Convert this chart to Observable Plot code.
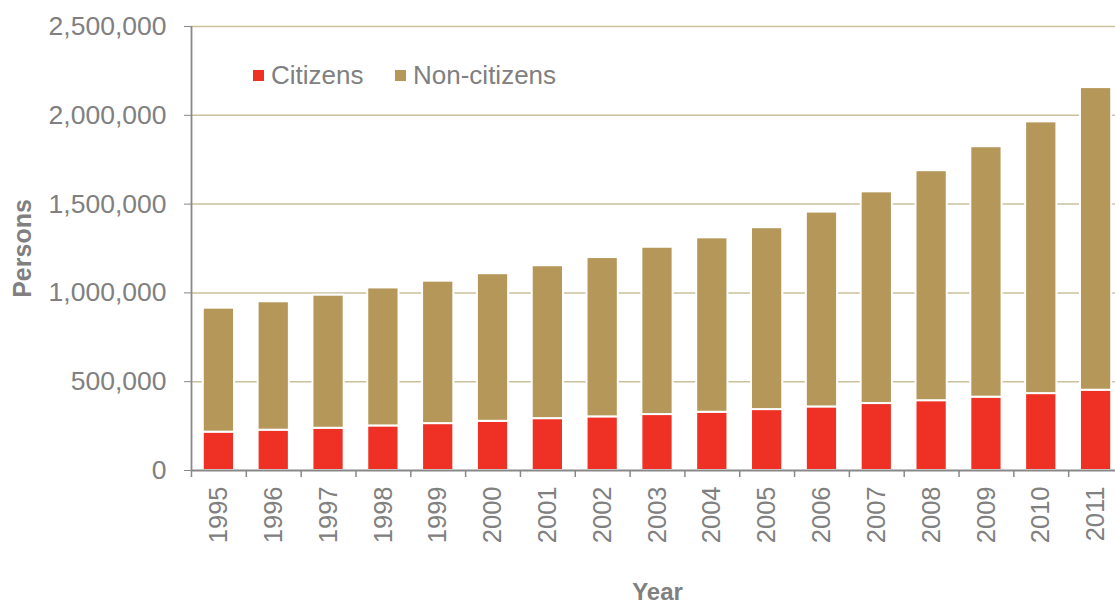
<!DOCTYPE html>
<html>
<head>
<meta charset="utf-8">
<script src="https://cdn.jsdelivr.net/npm/d3@7"></script>
<script src="https://cdn.jsdelivr.net/npm/@observablehq/plot@0.6"></script>
<style>
  body { margin: 0; background: #fff; overflow: hidden; font-family: "Liberation Sans", Arial, sans-serif; }
  #wrap { position: relative; width: 1115px; height: 606px; }
  .item { position: absolute; top: 58px; font-size: 26px; color: #808080; display: flex; align-items: center; line-height: 34px; white-space: nowrap; }
  .sw { display: inline-block; width: 11px; height: 11px; margin-right: 7px; }
</style>
</head>
<body>
<div id="wrap">
  <div id="chart"></div>
  <span class="item" style="left:253px"><span class="sw" style="background:#EE3124"></span>Citizens</span>
  <span class="item" style="left:395px"><span class="sw" style="background:#B49759"></span>Non-citizens</span>
</div>
<script>
const years = ["1995","1996","1997","1998","1999","2000","2001","2002","2003","2004","2005","2006","2007","2008","2009","2010","2011"];
const citizens = [216000, 227000, 238000, 251000, 264000, 277000, 292000, 302000, 315000, 328000, 343000, 358000, 377000, 393000, 413000, 433000, 452000];
const nonCitizens = [698000, 723000, 749000, 777000, 802000, 831000, 861000, 897000, 942000, 982000, 1024000, 1097000, 1192000, 1295000, 1410000, 1530000, 1704000];
const yTicks = [0, 500000, 1000000, 1500000, 2000000, 2500000];
const seriesNames = ["Citizens", "Non-citizens"];
const seriesColors = ["#EE3124", "#B49759"];

const rows = [];
years.forEach((y, i) => {
  rows.push({year: y, series: "Citizens", value: citizens[i]});
  rows.push({year: y, series: "Non-citizens", value: nonCitizens[i]});
});

const x0 = 191, x1 = 1123;
const step = (x1 - x0) / years.length;
const gray = "#888888";

const chart = Plot.plot({
  width: 1115,
  height: 606,
  marginLeft: 191,
  marginRight: 0,
  marginTop: 26,
  marginBottom: 136,
  style: {color: "#808080", fontFamily: "'Liberation Sans', Arial, sans-serif", background: "white"},
  x: {domain: years, range: [x0, x1], paddingInner: 0.43, paddingOuter: 0.215, round: false},
  y: {domain: [0, 2500000]},
  color: {domain: seriesNames, range: seriesColors},
  marks: [
    Plot.ruleY(yTicks.filter(d => d > 0), {stroke: "#C9C09C", strokeWidth: 1.5}),
    Plot.barY(rows, {x: "year", y: "value", fill: "series", stroke: "white", strokeWidth: 2}),
    Plot.ruleY([0], {stroke: gray, strokeWidth: 1.8}),
    Plot.ruleX(["1995"], {x: d => d, dx: -step / 2, y1: 0, y2: 2500000, stroke: gray, strokeWidth: 1.8}),
    Plot.ruleX(years, {x: d => d, dx: -step / 2, y1: -39400, y2: 0, stroke: gray, strokeWidth: 1.5}),
    Plot.ruleX(["2011"], {x: d => d, dx: step / 2, y1: -39400, y2: 0, stroke: gray, strokeWidth: 1.5}),
    Plot.axisY({ticks: yTicks, tickSize: 7, tickPadding: 18, tickFormat: d3.format(","), fontSize: 26.5, label: null, stroke: gray}),
    Plot.axisX({tickSize: 0, tickRotate: -90, tickPadding: 16, fontSize: 25.5, label: null}),
    Plot.text(["Persons"], {frameAnchor: "left", textAnchor: "middle", rotate: -90, dx: -169, fontWeight: "bold", fontSize: 25, fill: "#808080"}),
    Plot.text(["Year"], {frameAnchor: "bottom", dy: 129, dx: 4, fontWeight: "bold", fontSize: 24, fill: "#808080"})
  ]
});
document.getElementById("chart").appendChild(chart);
</script>
</body>
</html>
